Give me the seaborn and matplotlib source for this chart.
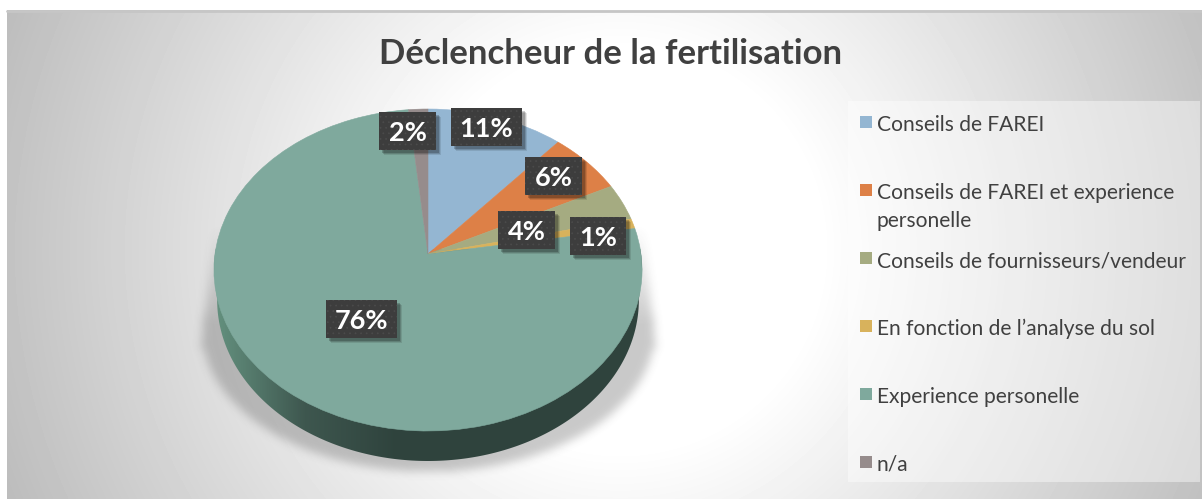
import numpy as np
import matplotlib
matplotlib.use("Agg")
import matplotlib.pyplot as plt
from matplotlib.patches import Rectangle, PathPatch
from matplotlib.path import Path
from matplotlib.transforms import Transform
from matplotlib.colors import LinearSegmentedColormap
import seaborn as sns

# ---- data ----
title = "Déclencheur de la fertilisation"
categories = ["Conseils de FAREI", "Conseils de FAREI et experience\npersonelle",
              "Conseils de fournisseurs/vendeur", "En fonction de l’analyse du sol",
              "Experience personelle", "n/a"]
values = [11.4, 6.3, 3.7, 1.0, 76.0, 1.6]
colors = ["#94B6D2", "#DD8047", "#A5AB81", "#D8B25C", "#7FA99D", "#968C8C"]

# ---- layout (pixels) ----
W, H = 1202, 502
CX, CY = 428.0, 255.0
A, B, K = 159.4, 213.0, 0.0994
DEPTH = 30.0
label_boxes = [(451, 109, 71), (525, 158, 57), (498, 212, 57), (570, 218, 56), (326, 301, 71), (379, 113, 57)]
legend_rows = [123, 191, 259, 327, 395, 463]

sns.set_theme(style="white")
plt.rcParams["font.family"] = ["Lato", "DejaVu Sans"]
palette = sns.color_palette(colors)


class Perspective(Transform):
    """Tilted-disc projection of the unit pie onto pixel coordinates."""
    input_dims = output_dims = 2
    has_inverse = False

    def transform_non_affine(self, xy):
        xy = np.asarray(xy, float)
        w = 1 + K * xy[:, 1]
        return np.column_stack([CX + B * xy[:, 0] / w, CY - A * xy[:, 1] / w])


persp = Perspective()


def box_blur(img, r, passes=3):
    kernel = np.ones(2 * r + 1) / (2 * r + 1)
    for _ in range(passes):
        img = np.apply_along_axis(lambda m: np.convolve(m, kernel, mode="same"), 0, img)
        img = np.apply_along_axis(lambda m: np.convolve(m, kernel, mode="same"), 1, img)
    return img


fig = plt.figure(figsize=(W / 100, H / 100), dpi=100, facecolor="white")
ax = fig.add_axes([0, 0, 1, 1])

# chart-area radial gradient
yy, xx = np.mgrid[0:H, 0:W]
d = np.hypot(xx - 620, yy - 250)
bg = np.clip(1 - 0.25 * np.clip(d - 200, 0, None) / 440.0, 0, 1)
grey = LinearSegmentedColormap.from_list("g", ["#000000", "#ffffff"])
ax.imshow(bg[11:500, 7:W], extent=(7, W, 500, 11), cmap=grey, vmin=0, vmax=1, aspect="auto", zorder=0)
ax.plot([7, W], [11.5, 11.5], color="#c6c6c6", lw=2, zorder=1)

# legend panel
ax.add_patch(Rectangle((848, 102), 352, 381, fc="white", ec="none", alpha=0.42, zorder=1))

# soft shadow under the pie
mask = (((xx - CX) / 226.0) ** 2 + ((yy - 332) / 140.0) ** 2 <= 1).astype(float)
mask[(yy > 225) & (yy < 350) & (np.abs(xx - CX) < 214 + (yy - 225) * 0.108)] = 1
sh = box_blur(mask, 4)
sh *= np.clip((yy - 225) / 100.0, 0, 1) * 0.30
rgba = np.zeros((H, W, 4))
rgba[..., :3] = 0.3
rgba[..., 3] = sh
ax.imshow(rgba, extent=(0, W, H, 0), aspect="auto", zorder=2)

# side wall of the pie
lower = np.linspace(np.pi * 1.03, np.pi * 1.97, 200)
rim_low = persp.transform_non_affine(np.column_stack([np.cos(lower), np.sin(lower)]))
rim_low[:, 0] = CX + (rim_low[:, 0] - CX) * 0.985
rim_low[:, 1] += DEPTH
upper = np.linspace(-0.03 * np.pi, 1.03 * np.pi, 200)
rim_up = persp.transform_non_affine(np.column_stack([np.cos(upper), np.sin(upper)]))
side_path = Path(np.vstack([rim_low, rim_up, rim_low[:1]]), closed=True)
side_cmap = LinearSegmentedColormap.from_list(
    "side", [(0, "#64917f"), (0.42, "#3e574f"), (0.85, "#2f433d"), (1, "#2f433d")])
grad = np.clip((np.arange(214, 643) - 214) / 215.0, 0, 1)[None, :]
im = ax.imshow(grad, extent=(214, 643, 470, 250), cmap=side_cmap, vmin=0, vmax=1, aspect="auto", zorder=3)
clip = PathPatch(side_path, transform=ax.transData, fc="none", ec="none")
ax.add_patch(clip)
im.set_clip_path(clip)

# pie top face
wedges, _ = ax.pie(values, colors=palette, startangle=90, counterclock=False, radius=1,
                   frame=True, wedgeprops=dict(linewidth=0.4))
for w_, c in zip(wedges, palette):
    w_.set_transform(persp + ax.transData)
    w_.set_edgecolor(c)
    w_.set_zorder(4)

# value labels
plt.rcParams["hatch.linewidth"] = 0.5
total = sum(values)
for v, (bx, by, bw) in zip(values, label_boxes):
    for off, alpha in ((5, 0.10), (4, 0.15), (3, 0.2)):
        ax.add_patch(Rectangle((bx + off, by + off), bw, 38, fc="black", ec="none", alpha=alpha, zorder=5))
    ax.add_patch(Rectangle((bx, by), bw, 38, fc="#3d3d3d", ec="#4b4b4b", lw=0, hatch="...", zorder=6))
    ax.text(bx + bw / 2, by + 20, f"{v / total * 100:.0f}%", color="white", fontsize=19.5, fontweight="bold",
            ha="center", va="center", zorder=7)

# title
ax.text(611, 54, title, fontsize=25, fontweight="bold", color="#404040", ha="center", va="center", zorder=7)

# legend
for name, col, y in zip(categories, palette, legend_rows):
    ax.add_patch(Rectangle((860, y - 6), 12, 12, fc=col, ec="none", zorder=6))
    ax.text(877, y - 8, name, fontsize=15.1, color="#404040", ha="left", va="top",
            linespacing=1.47, zorder=7)

ax.set_aspect("auto")
ax.set_xlim(0, W)
ax.set_ylim(H, 0)
ax.set_axis_off()
fig.savefig("out.png", dpi=100, facecolor="white")
